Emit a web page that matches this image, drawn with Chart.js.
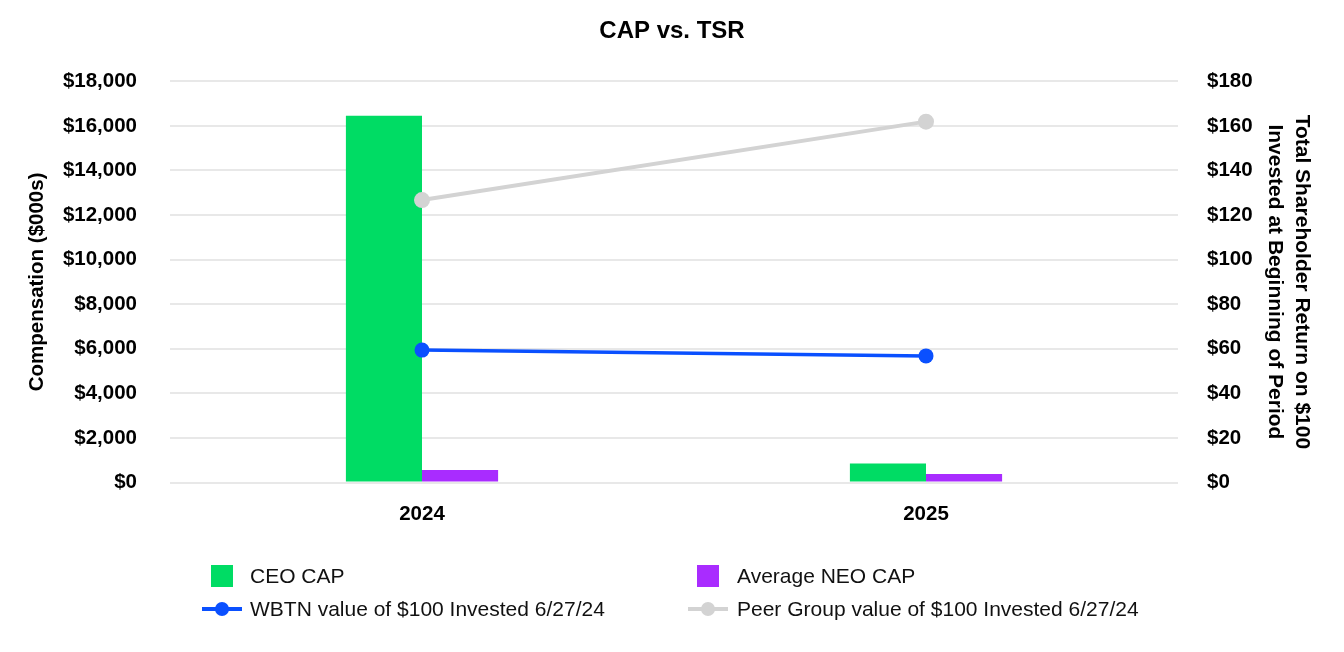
<!DOCTYPE html>
<html>
<head>
<meta charset="utf-8">
<title>CAP vs. TSR</title>
<script src="https://cdn.jsdelivr.net/npm/chart.js@4.4.1/dist/chart.umd.min.js"></script>
<style>
  html, body { margin: 0; padding: 0; background: #fff; }
  #wrap { position: relative; width: 1344px; height: 652px; }
</style>
</head>
<body>
<div id="wrap"><canvas id="capChart" width="1344" height="652"></canvas></div>
<script>
// values
const years = ['2024', '2025'];
const ceoCap = [16450, 850];      // $000s
const neoCap = [560, 385];        // $000s
const wbtnTsr = [59.4, 56.8];     // $
const peerTsr = [126.7, 161.9];   // $

const seriesNames = ['CEO CAP', 'Average NEO CAP', 'WBTN value of $100 Invested 6/27/24', 'Peer Group value of $100 Invested 6/27/24'];
const leftTicks = [0, 2000, 4000, 6000, 8000, 10000, 12000, 14000, 16000, 18000];
const rightTicks = [0, 20, 40, 60, 80, 100, 120, 140, 160, 180];

const FONT = "'Liberation Sans', Arial, sans-serif";
const green = '#00DC64';
const purple = '#A92CFF';
const blue = '#0A50FF';
const grey = '#D3D3D3';

// 2x2 legend drawn under the plot, like the original
const gridLegend = {
  id: 'gridLegend',
  afterDraw(chart) {
    const ctx = chart.ctx;
    const ds = chart.data.datasets;
    const slots = [
      {i: 0, cx: 222, tx: 250, y: 576},
      {i: 1, cx: 708, tx: 737, y: 576},
      {i: 2, cx: 222, tx: 250, y: 609},
      {i: 3, cx: 708, tx: 737, y: 609}
    ];
    ctx.save();
    slots.forEach(s => {
      const d = ds[s.i];
      if (d.type === 'line') {
        ctx.strokeStyle = d.borderColor;
        ctx.lineWidth = 4;
        ctx.beginPath();
        ctx.moveTo(s.cx - 20, s.y);
        ctx.lineTo(s.cx + 20, s.y);
        ctx.stroke();
        ctx.fillStyle = d.borderColor;
        ctx.beginPath();
        ctx.arc(s.cx, s.y, 7, 0, Math.PI * 2);
        ctx.fill();
      } else {
        ctx.fillStyle = d.backgroundColor;
        ctx.fillRect(s.cx - 11, s.y - 11, 22, 22);
      }
      ctx.fillStyle = '#111';
      ctx.font = '21px ' + FONT;
      ctx.textAlign = 'left';
      ctx.textBaseline = 'middle';
      ctx.fillText(d.label, s.tx, s.y + 1);
    });
    ctx.restore();
  }
};

const ctx = document.getElementById('capChart');

new Chart(ctx, {
  data: {
    labels: years,
    datasets: [
      {
        type: 'bar',
        label: seriesNames[0],
        data: ceoCap,
        backgroundColor: green,
        yAxisID: 'y',
        order: 3
      },
      {
        type: 'bar',
        label: seriesNames[1],
        data: neoCap,
        backgroundColor: purple,
        yAxisID: 'y',
        order: 3
      },
      {
        type: 'line',
        label: seriesNames[2],
        data: wbtnTsr,
        borderColor: blue,
        backgroundColor: blue,
        borderWidth: 3.5,
        pointRadius: 7.5,
        pointHoverRadius: 7.5,
        pointBorderWidth: 0,
        yAxisID: 'y1',
        order: 1
      },
      {
        type: 'line',
        label: seriesNames[3],
        data: peerTsr,
        borderColor: grey,
        backgroundColor: grey,
        borderWidth: 4,
        pointRadius: 8,
        pointHoverRadius: 8,
        pointBorderWidth: 0,
        yAxisID: 'y1',
        order: 2
      }
    ]
  },
  options: {
    responsive: false,
    animation: false,
    layout: { padding: 0 },
    datasets: {
      bar: { barPercentage: 1, categoryPercentage: 0.302 }
    },
    plugins: {
      legend: { display: false },
      tooltip: { enabled: false },
      title: {
        display: true,
        text: 'CAP vs. TSR',
        color: '#000',
        font: { family: FONT, size: 24, weight: 'bold' },
        padding: { top: 17, bottom: 35.5 }
      }
    },
    scales: {
      x: {
        grid: { display: false, drawTicks: false },
        border: { display: false },
        ticks: {
          color: '#000',
          padding: 20,
          font: { family: FONT, size: 20.5, weight: 'bold' }
        },
        afterFit: (scale) => { scale.height = 169.5; }
      },
      y: {
        position: 'left',
        min: 0,
        max: 18000,
        afterBuildTicks: (scale) => { scale.ticks = leftTicks.map(v => ({value: v})); },
        grid: { color: '#E8E8E8', lineWidth: 2, drawTicks: false },
        border: { display: false },
        ticks: {
          color: '#000',
          padding: 33,
          font: { family: FONT, size: 20.5, weight: 'bold' },
          callback: (v) => '$' + v.toLocaleString('en-US')
        },
        title: {
          display: true,
          text: 'Compensation ($000s)',
          color: '#000',
          font: { family: FONT, size: 20.5, weight: 'bold' },
          padding: { top: 25, bottom: 0 }
        },
        afterFit: (scale) => { scale.width = 170; }
      },
      y1: {
        position: 'right',
        min: 0,
        max: 180,
        afterBuildTicks: (scale) => { scale.ticks = rightTicks.map(v => ({value: v})); },
        grid: { display: false, drawTicks: false },
        border: { display: false },
        ticks: {
          color: '#000',
          padding: 29,
          font: { family: FONT, size: 20.5, weight: 'bold' },
          callback: (v) => '$' + v
        },
        title: {
          display: true,
          text: ['Total Shareholder Return on $100', 'Invested at Beginning of Period'],
          color: '#000',
          font: { family: FONT, size: 21, weight: 'bold', lineHeight: 1.3 },
          padding: { top: 28.5, bottom: 0 }
        },
        afterFit: (scale) => { scale.width = 166; }
      }
    }
  },
  plugins: [gridLegend]
});
</script>
</body>
</html>
